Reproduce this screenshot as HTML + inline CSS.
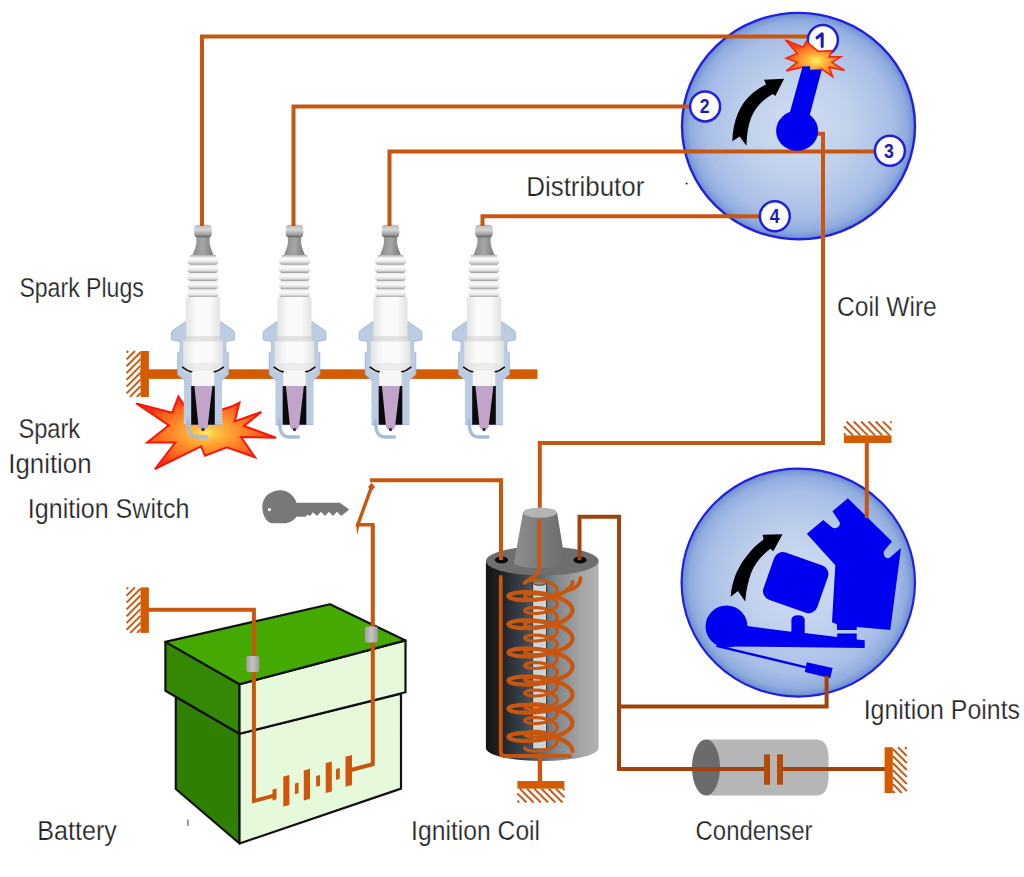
<!DOCTYPE html>
<html><head><meta charset="utf-8"><style>
html,body{margin:0;padding:0;background:#fff;width:1024px;height:877px;overflow:hidden}
svg{position:absolute;left:0;top:0;display:block}
text{font-family:"Liberation Sans",sans-serif;fill:#222}
</style></head><body>
<svg width="1024" height="877" viewBox="0 0 1024 877">
<defs>
<radialGradient id="dg" cx="50%" cy="50%" r="50%">
<stop offset="0" stop-color="#d2def2"/>
<stop offset="0.45" stop-color="#c0d1ec"/>
<stop offset="0.8" stop-color="#a8bee6"/>
<stop offset="0.93" stop-color="#90acdf"/>
<stop offset="1" stop-color="#6a8cd0"/>
</radialGradient>
<radialGradient id="sg" cx="50%" cy="50%" r="50%">
<stop offset="0" stop-color="#fff066"/>
<stop offset="0.15" stop-color="#ffc442"/>
<stop offset="0.45" stop-color="#ff902c"/>
<stop offset="0.8" stop-color="#ff5c1c"/>
<stop offset="1" stop-color="#ff2e10"/>
</radialGradient>
<linearGradient id="rib" x1="0" y1="0" x2="0" y2="1">
<stop offset="0" stop-color="#e8e8e8"/>
<stop offset="0.35" stop-color="#fbfbfb"/>
<stop offset="0.7" stop-color="#e0e0e0"/>
<stop offset="1" stop-color="#9a9a9a"/>
</linearGradient>
<linearGradient id="bodyg" x1="0" y1="0" x2="1" y2="0">
<stop offset="0" stop-color="#e4e4e4"/>
<stop offset="0.3" stop-color="#fafafa"/>
<stop offset="0.7" stop-color="#fafafa"/>
<stop offset="1" stop-color="#e2e2e2"/>
</linearGradient>
<linearGradient id="bodyv" x1="0" y1="0" x2="0" y2="1">
<stop offset="0" stop-color="#ffffff" stop-opacity="0"/>
<stop offset="0.52" stop-color="#ffffff" stop-opacity="0"/>
<stop offset="0.58" stop-color="#b0b0b0" stop-opacity="0.7"/>
<stop offset="0.64" stop-color="#ffffff" stop-opacity="0"/>
<stop offset="0.92" stop-color="#ffffff" stop-opacity="0"/>
<stop offset="1" stop-color="#c8c8c8" stop-opacity="0.8"/>
</linearGradient>
<linearGradient id="neck" x1="0" y1="0" x2="1" y2="0">
<stop offset="0" stop-color="#8a8a8a"/>
<stop offset="0.5" stop-color="#a6a6a6"/>
<stop offset="1" stop-color="#7a7a7a"/>
</linearGradient>
<linearGradient id="capg" x1="0" y1="0" x2="0" y2="1">
<stop offset="0" stop-color="#b8b8b8"/>
<stop offset="0.4" stop-color="#d8d8d8"/>
<stop offset="0.8" stop-color="#9a9a9a"/>
<stop offset="1" stop-color="#5a5a5a"/>
</linearGradient>
<g id="plug">
<!-- cap & neck -->
<path d="M-7,236 C-6,242 -6.5,246 -10.5,255 H10.5 C6.5,246 6,242 7,236 Z" fill="url(#neck)"/>
<rect x="-8.8" y="224.8" width="17.6" height="12.5" rx="3.5" fill="url(#capg)"/>
<!-- ribs -->
<rect x="-13" y="255" width="26" height="45" fill="#bdbdbd"/>
<rect x="-15.7" y="256.5" width="31.4" height="8.2" rx="4" fill="url(#rib)"/>
<rect x="-15.7" y="264.7" width="31.4" height="8.2" rx="4" fill="url(#rib)"/>
<rect x="-15.7" y="272.9" width="31.4" height="8.2" rx="4" fill="url(#rib)"/>
<rect x="-15.7" y="281.1" width="31.4" height="8.2" rx="4" fill="url(#rib)"/>
<rect x="-15.7" y="289.3" width="31.4" height="8.2" rx="4" fill="url(#rib)"/>
<!-- shell -->
<path d="M-17.8,321.8 L-30,330.3 Q-31.4,331.3 -31.4,333 L-31.4,339.8 L-22.8,341.5 L-22.8,351.5 L-25.3,352.5 L-25.3,374.5 L-18.5,380.3 L-18.5,424.7 L18.5,424.7 L18.5,380.3 L25.3,374.5 L25.3,352.5 L22.8,351.5 L22.8,341.5 L31.4,339.8 L31.4,333 Q31.4,331.3 30,330.3 L17.8,321.8 Z" fill="#bccde3" stroke="#a2b4ce" stroke-width="0.9"/>
<path d="M-18.7,382 V424 M18.7,382 V424" stroke="#e4ebf3" stroke-width="1.3" stroke-dasharray="1.2 1.5"/>
<!-- body -->
<rect x="-17" y="297" width="34" height="46" fill="url(#bodyg)"/>
<path d="M-19.8,340.5 H19.8 V368 Q19.8,372 15,372 H-15 Q-19.8,372 -19.8,368 Z" fill="url(#bodyg)"/>
<rect x="-19.8" y="336" width="39.6" height="5.5" fill="#c8c8c8" opacity="0.45"/>
<rect x="-20" y="363" width="40" height="8" fill="#dcdcdc" opacity="0.45"/>
<!-- gasket black line -->
<path d="M-20.8,366.8 Q-16,371 -10.5,372.2 M20.8,366.8 Q16,371 10.5,372.2" fill="none" stroke="#111" stroke-width="1.7"/>
<!-- lower insulator -->
<rect x="-11.3" y="372" width="22.6" height="14.2" fill="#f6f6f6"/>
<rect x="-11.8" y="386" width="23.6" height="38.7" fill="#0a0a0a"/>
<path d="M-8.6,386 L9.4,386 L4.5,427.5 C3,430.5 -3,430.5 -4.4,427.5 Z" fill="#c2a3c9"/>
<circle cx="0" cy="429.5" r="1.7" fill="#333"/>
<!-- ground electrode -->
<path d="M-15,420 C-15,432 -12.5,437 -5,437 L4,437" fill="none" stroke="#a9bcd6" stroke-width="3.4" stroke-linecap="round"/>
</g>
<radialGradient id="sg2" cx="52%" cy="57%" r="55%">
<stop offset="0" stop-color="#fff266"/>
<stop offset="0.25" stop-color="#ffc03c"/>
<stop offset="0.6" stop-color="#ff8228"/>
<stop offset="1" stop-color="#ff3a14"/>
</radialGradient>
</defs>

<!-- WIRES -->

<!-- SPARK PLUGS & GROUND BAR -->
<rect x="140.5" y="351" width="8.4" height="46" fill="#d35c00"/>
<rect x="140.5" y="369.3" width="397" height="9.6" fill="#d35c00"/>
<path d="M126.6,352.6 L128.2,351 M126.6,359.4 L135.0,351 M126.6,366.2 L140.5,352.3 M126.6,373.0 L140.5,359.1 M126.6,379.8 L140.5,365.9 M126.6,386.6 L140.5,372.7 M126.6,393.4 L140.5,379.5 M129.9,396.9 L140.5,386.3 M136.7,396.9 L140.5,393.1" stroke="#c85c1a" stroke-width="2" fill="none"/>
<!-- SPARK STAR -->
<path d="M136.3,403.4 L172.2,412.8 L178.4,396.4 L186,408 L200,410 L215,412 L233,406 L239.4,402.7 L234.7,421.4 L261.3,412 L244,426 L276,437.8 L241,437 L255,457.3 L226.9,447.2 L205,455.8 L201,446.4 L155,469 L175.3,442.5 L147.2,442.5 L169,425.3 Z" fill="url(#sg)" stroke="#f5180a" stroke-width="2"/>

<use href="#plug" transform="translate(203,0)"/>
<use href="#plug" transform="translate(294.5,0)"/>
<use href="#plug" transform="translate(390.5,0)"/>
<use href="#plug" transform="translate(484,0)"/>

<!-- DISTRIBUTOR -->
<ellipse cx="798.5" cy="126.1" rx="116.5" ry="113.2" fill="url(#dg)" stroke="#2020e0" stroke-width="2.4"/>
<g fill="none" stroke="#c9560f" stroke-width="4">
<path d="M202,226 V36.5 H820"/>
<path d="M293.5,226 V106.5 H700"/>
<path d="M389.5,226 V151.5 H885"/>
<path d="M482.5,226 V216.3 H770"/>
<path d="M816,133.8 H823 V443 H539.8 V512"/>
</g>
<!-- number circles -->
<g fill="#fff" stroke="#2020d8" stroke-width="2.5">
<circle cx="822.9" cy="40" r="15"/>
<circle cx="705.1" cy="106.4" r="15"/>
<circle cx="889.9" cy="150.8" r="15"/>
<circle cx="774.8" cy="216.2" r="15"/>
</g>
<g font-weight="bold" font-size="20" text-anchor="middle">
<text x="704.6" y="113" textLength="9.8" lengthAdjust="spacingAndGlyphs" style="fill:#1c1cb4">2</text>
<text x="888.9" y="157.5" textLength="9.8" lengthAdjust="spacingAndGlyphs" style="fill:#1c1cb4">3</text>
<text x="774.6" y="223" textLength="9.8" lengthAdjust="spacingAndGlyphs" style="fill:#1c1cb4">4</text>
</g>
<path d="M817,37.8 L822.2,33.8 V46.6" fill="none" stroke="#1c1cb4" stroke-width="3" stroke-linejoin="round" stroke-linecap="round"/>
<!-- star at 1 -->
<path d="M785.5,40.1 L803.2,47.3 L806.3,41.5 L818.3,51.4 L832,50.7 L829.2,56.9 L840.8,56.9 L832,62.3 L844.6,70.5 L829.2,67.1 L832.6,76.7 L821.7,69.2 L810.8,70.5 L802.6,67.1 L786.2,70.9 L797.1,62.3 L786.2,58.2 L797.1,53.5 Z" fill="url(#sg2)" stroke="#f02a12" stroke-width="1.6" stroke-linejoin="miter"/>
<!-- rotor -->
<g fill="#0000f0">
<path d="M789.7,113 L809.7,115.3 L821.7,70 L810.1,69.9 L810,66.2 L802.6,66.6 Z"/>
<ellipse cx="797.1" cy="130.8" rx="21" ry="20"/>
</g>
<!-- arrow -->
<path d="M732.3,141.3 C733,120 740,103 754,92 C758,89 762,86.5 766,84.6 L764.1,79.8 L784.1,78.8 L775.3,95.9 L772.9,93.9 C762,100 755,108 751,118 C748,126 746.5,136 746.5,145.7 L739.6,136.4 Z" fill="#000"/>
<circle cx="686.6" cy="183.4" r="1" fill="#222"/>

<!-- IGNITION POINTS -->
<ellipse cx="798.3" cy="582.6" rx="116.7" ry="114" fill="url(#dg)" stroke="#2020e0" stroke-width="2.2"/>
<g fill="#0000f0">
<path d="M806.8,533.8 L823.3,520.1 L830.8,526.2 Q834,530 838.2,527 Q840.5,524.5 839.7,522.2 L832.5,511.2 L847.9,498.2 L891.9,541.5 L884.2,550.8 Q882.5,555.5 886,557.8 Q888.5,559 890.5,557 L901,547.9 L890.3,630 L856.7,627 L856.7,630 L837.2,630 L836.8,624.3 L832,622.3 L835.3,565.2 Z"/>
<rect x="767.2" y="557.6" width="57" height="50" rx="9" transform="rotate(19.5 795.7 582.6)"/>
<circle cx="726.5" cy="626.5" r="21"/>
<path d="M722,606 L747.6,626.1 L791.4,631.8 L791.4,620 Q791.4,615.3 798,615.3 Q804.7,615.3 804.7,620 L804.7,633.1 L837.2,636.9 L837.2,633.5 L856.7,633.5 L856.7,639.5 L864.7,640.3 L864.7,647.9 L722.9,646.4 Q712,645 706,630 Z"/>
<path d="M806.7,662.2 L832.6,668.1 L830.2,678.3 L804.8,672 Z"/>
</g>
<path d="M716.5,645.8 L806,667.3" stroke="#0000f0" stroke-width="2.4" fill="none"/>
<path d="M730.7,596.7 C731.5,583 737,568 746,557 C751,550 757,544 763.6,539.5 L762.7,534.7 L782.5,534.2 L773.3,551.2 L770.4,548.8 C762,555 755,563 751.5,572 C748.5,580 746,590 745.2,601.6 L737.9,590.9 Z" fill="#000"/>

<!-- IGNITION COIL -->
<linearGradient id="coilg" x1="0" y1="0" x2="1" y2="0">
<stop offset="0" stop-color="#141414"/>
<stop offset="0.12" stop-color="#1e2022"/>
<stop offset="0.35" stop-color="#3c4650"/>
<stop offset="0.62" stop-color="#80868c"/>
<stop offset="0.85" stop-color="#a6a6a6"/>
<stop offset="1" stop-color="#b2b2b2"/>
</linearGradient>
<linearGradient id="towerg" x1="0" y1="0" x2="1" y2="0">
<stop offset="0" stop-color="#8e8e8e"/>
<stop offset="0.5" stop-color="#7c7c7c"/>
<stop offset="1" stop-color="#6c6c6c"/>
</linearGradient>
<path d="M485.9,561 V748 A56.35,13 0 0 0 598.6,748 V561 Z" fill="url(#coilg)"/>
<ellipse cx="542.25" cy="561" rx="56.35" ry="14.5" fill="#6e6e6e"/>
<path d="M523,512.6 L514.1,562.3 A25.5,6 0 0 0 565.2,562.3 L557.1,512.6 Z" fill="url(#towerg)"/>
<ellipse cx="540" cy="512.6" rx="17" ry="5.2" fill="#b4b4b4"/>
<ellipse cx="501.5" cy="560" rx="6.7" ry="3.5" fill="#0a0a0a"/>
<ellipse cx="580" cy="560" rx="6.7" ry="3.5" fill="#0a0a0a"/>
<rect x="532.6" y="582" width="14" height="167" fill="#cfd3d6" stroke="#333" stroke-width="1"/>
<ellipse cx="539.6" cy="582.5" rx="7" ry="2.8" fill="#888" stroke="#333" stroke-width="1"/>
<g fill="none" stroke="#c9560f" stroke-linecap="round">
<path d="M539.3,521 V568 C539.3,576 530,578 524.7,583" stroke-width="3.6"/>
<path d="M524.7,583.0 L525.2,582.1 L526.7,581.2 L529.1,580.5 L532.3,580.1 L536.0,580.0 L540.0,580.3 L544.1,581.0 L547.9,582.0 L551.4,583.3 L554.2,585.0 L556.2,586.8 L557.2,588.8 L557.2,590.9 L556.2,592.9 L554.2,594.8 L551.4,596.4 L547.9,597.8 L544.1,598.8 L540.0,599.4 L536.0,599.7 L532.3,599.6 L529.1,599.2 L526.7,598.5 L525.2,597.7 L524.7,596.8 L525.2,595.8 L526.7,595.0 L529.1,594.3 L532.3,593.9 L536.0,593.8 L540.0,594.1 L544.1,594.7 L547.9,595.7 L551.4,597.1 L554.2,598.7 L556.2,600.6 L557.2,602.6 L557.2,604.7 L556.2,606.7 L554.2,608.5 L551.4,610.2 L547.9,611.5 L544.1,612.5 L540.0,613.2 L536.0,613.5 L532.3,613.4 L529.1,613.0 L526.7,612.3 L525.2,611.4 L524.7,610.5 L525.2,609.6 L526.7,608.7 L529.1,608.0 L532.3,607.6 L536.0,607.5 L540.0,607.8 L544.1,608.5 L547.9,609.5 L551.4,610.8 L554.2,612.5 L556.2,614.3 L557.2,616.3 L557.2,618.4 L556.2,620.4 L554.2,622.3 L551.4,623.9 L547.9,625.3 L544.1,626.3 L540.0,626.9 L536.0,627.2 L532.3,627.1 L529.1,626.7 L526.7,626.0 L525.2,625.2 L524.7,624.2 L525.2,623.3 L526.7,622.5 L529.1,621.8 L532.3,621.4 L536.0,621.3 L540.0,621.6 L544.1,622.2 L547.9,623.2 L551.4,624.6 L554.2,626.2 L556.2,628.1 L557.2,630.1 L557.2,632.2 L556.2,634.2 L554.2,636.0 L551.4,637.7 L547.9,639.0 L544.1,640.0 L540.0,640.7 L536.0,641.0 L532.3,640.9 L529.1,640.5 L526.7,639.8 L525.2,638.9 L524.7,638.0 L525.2,637.1 L526.7,636.2 L529.1,635.5 L532.3,635.1 L536.0,635.0 L540.0,635.3 L544.1,636.0 L547.9,637.0 L551.4,638.3 L554.2,640.0 L556.2,641.8 L557.2,643.8 L557.2,645.9 L556.2,647.9 L554.2,649.8 L551.4,651.4 L547.9,652.8 L544.1,653.8 L540.0,654.4 L536.0,654.7 L532.3,654.6 L529.1,654.2 L526.7,653.5 L525.2,652.7 L524.7,651.8 L525.2,650.8 L526.7,650.0 L529.1,649.3 L532.3,648.9 L536.0,648.8 L540.0,649.1 L544.1,649.7 L547.9,650.7 L551.4,652.1 L554.2,653.7 L556.2,655.6 L557.2,657.6 L557.2,659.7 L556.2,661.7 L554.2,663.5 L551.4,665.2 L547.9,666.5 L544.1,667.5 L540.0,668.2 L536.0,668.5 L532.3,668.4 L529.1,668.0 L526.7,667.3 L525.2,666.4 L524.7,665.5 L525.2,664.6 L526.7,663.7 L529.1,663.0 L532.3,662.6 L536.0,662.5 L540.0,662.8 L544.1,663.5 L547.9,664.5 L551.4,665.8 L554.2,667.5 L556.2,669.3 L557.2,671.3 L557.2,673.4 L556.2,675.4 L554.2,677.3 L551.4,678.9 L547.9,680.3 L544.1,681.3 L540.0,681.9 L536.0,682.2 L532.3,682.1 L529.1,681.7 L526.7,681.0 L525.2,680.2 L524.7,679.2 L525.2,678.3 L526.7,677.5 L529.1,676.8 L532.3,676.4 L536.0,676.3 L540.0,676.6 L544.1,677.2 L547.9,678.2 L551.4,679.6 L554.2,681.2 L556.2,683.1 L557.2,685.1 L557.2,687.2 L556.2,689.2 L554.2,691.0 L551.4,692.7 L547.9,694.0 L544.1,695.0 L540.0,695.7 L536.0,696.0 L532.3,695.9 L529.1,695.5 L526.7,694.8 L525.2,693.9 L524.7,693.0 L525.2,692.1 L526.7,691.2 L529.1,690.5 L532.3,690.1 L536.0,690.0 L540.0,690.3 L544.1,691.0 L547.9,692.0 L551.4,693.3 L554.2,695.0 L556.2,696.8 L557.2,698.8 L557.2,700.9 L556.2,702.9 L554.2,704.8 L551.4,706.4 L547.9,707.8 L544.1,708.8 L540.0,709.4 L536.0,709.7 L532.3,709.6 L529.1,709.2 L526.7,708.5 L525.2,707.7 L524.7,706.8 L525.2,705.8 L526.7,705.0 L529.1,704.3 L532.3,703.9 L536.0,703.8 L540.0,704.1 L544.1,704.7 L547.9,705.7 L551.4,707.1 L554.2,708.7 L556.2,710.6 L557.2,712.6 L557.2,714.7 L556.2,716.7 L554.2,718.5 L551.4,720.2 L547.9,721.5 L544.1,722.5 L540.0,723.2 L536.0,723.5 L532.3,723.4 L529.1,723.0 L526.7,722.3 L525.2,721.4 L524.7,720.5 L525.2,719.6 L526.7,718.7 L529.1,718.0 L532.3,717.6 L536.0,717.5 L540.0,717.8 L544.1,718.5 L547.9,719.5 L551.4,720.8 L554.2,722.5 L556.2,724.3 L557.2,726.3 L557.2,728.4 L556.2,730.4 L554.2,732.3 L551.4,733.9 L547.9,735.3 L544.1,736.3 L540.0,736.9 L536.0,737.2 L532.3,737.1 L529.1,736.7 L526.7,736.0 L525.2,735.2 L524.7,734.2 L525.2,733.3 L526.7,732.5 L529.1,731.8 L532.3,731.4 L536.0,731.3 L540.0,731.6 L544.1,732.2 L547.9,733.2 L551.4,734.6 L554.2,736.2 L556.2,738.1 L557.2,740.1 L557.2,742.2 L556.2,744.2 L554.2,746.0 L551.4,747.7 L547.9,749.0 L544.1,750.0 L540.0,750.7 L536.0,751.0 L532.3,750.9 L529.1,750.5 L526.7,749.8 L525.2,748.9 L524.7,748.0" stroke-width="3.2"/>
<path d="M572.5,582.0 L572.1,584.3 L570.9,586.5 L569.0,588.7 L566.4,590.7 L563.1,592.6 L559.3,594.3 L555.0,595.8 L550.4,597.1 L545.5,598.2 L540.5,599.0 L535.5,599.6 L530.6,600.0 L526.0,600.1 L521.7,599.9 L517.9,599.6 L514.6,599.1 L512.0,598.5 L510.1,597.8 L508.9,596.9 L508.5,596.1 L508.9,595.2 L510.1,594.4 L512.0,593.7 L514.6,593.0 L517.9,592.5 L521.7,592.2 L526.0,592.1 L530.6,592.2 L535.5,592.5 L540.5,593.1 L545.5,594.0 L550.4,595.0 L555.0,596.3 L559.3,597.9 L563.1,599.6 L566.4,601.5 L569.0,603.5 L570.9,605.7 L572.1,607.9 L572.5,610.2 L572.1,612.4 L570.9,614.7 L569.0,616.8 L566.4,618.9 L563.1,620.8 L559.3,622.5 L555.0,624.0 L550.4,625.3 L545.5,626.4 L540.5,627.2 L535.5,627.8 L530.6,628.1 L526.0,628.2 L521.7,628.1 L517.9,627.8 L514.6,627.3 L512.0,626.7 L510.1,625.9 L508.9,625.1 L508.5,624.2 L508.9,623.4 L510.1,622.6 L512.0,621.8 L514.6,621.2 L517.9,620.7 L521.7,620.4 L526.0,620.3 L530.6,620.4 L535.5,620.7 L540.5,621.3 L545.5,622.1 L550.4,623.2 L555.0,624.5 L559.3,626.0 L563.1,627.7 L566.4,629.6 L569.0,631.7 L570.9,633.8 L572.1,636.1 L572.5,638.3 L572.1,640.6 L570.9,642.8 L569.0,645.0 L566.4,647.0 L563.1,648.9 L559.3,650.6 L555.0,652.2 L550.4,653.5 L545.5,654.5 L540.5,655.4 L535.5,656.0 L530.6,656.3 L526.0,656.4 L521.7,656.3 L517.9,656.0 L514.6,655.5 L512.0,654.8 L510.1,654.1 L508.9,653.3 L508.5,652.4 L508.9,651.6 L510.1,650.7 L512.0,650.0 L514.6,649.4 L517.9,648.9 L521.7,648.6 L526.0,648.4 L530.6,648.5 L535.5,648.9 L540.5,649.5 L545.5,650.3 L550.4,651.4 L555.0,652.7 L559.3,654.2 L563.1,655.9 L566.4,657.8 L569.0,659.8 L570.9,662.0 L572.1,664.2 L572.5,666.5 L572.1,668.8 L570.9,671.0 L569.0,673.2 L566.4,675.2 L563.1,677.1 L559.3,678.8 L555.0,680.3 L550.4,681.6 L545.5,682.7 L540.5,683.5 L535.5,684.1 L530.6,684.5 L526.0,684.6 L521.7,684.4 L517.9,684.1 L514.6,683.6 L512.0,683.0 L510.1,682.3 L508.9,681.4 L508.5,680.6 L508.9,679.7 L510.1,678.9 L512.0,678.2 L514.6,677.5 L517.9,677.0 L521.7,676.7 L526.0,676.6 L530.6,676.7 L535.5,677.0 L540.5,677.6 L545.5,678.5 L550.4,679.5 L555.0,680.8 L559.3,682.4 L563.1,684.1 L566.4,686.0 L569.0,688.0 L570.9,690.2 L572.1,692.4 L572.5,694.7 L572.1,696.9 L570.9,699.2 L569.0,701.3 L566.4,703.4 L563.1,705.3 L559.3,707.0 L555.0,708.5 L550.4,709.8 L545.5,710.9 L540.5,711.7 L535.5,712.3 L530.6,712.6 L526.0,712.7 L521.7,712.6 L517.9,712.3 L514.6,711.8 L512.0,711.2 L510.1,710.4 L508.9,709.6 L508.5,708.8 L508.9,707.9 L510.1,707.1 L512.0,706.3 L514.6,705.7 L517.9,705.2 L521.7,704.9 L526.0,704.8 L530.6,704.9 L535.5,705.2 L540.5,705.8 L545.5,706.6 L550.4,707.7 L555.0,709.0 L559.3,710.5 L563.1,712.2 L566.4,714.1 L569.0,716.2 L570.9,718.3 L572.1,720.6 L572.5,722.8 L572.1,725.1 L570.9,727.3 L569.0,729.5 L566.4,731.5 L563.1,733.4 L559.3,735.1 L555.0,736.7 L550.4,738.0 L545.5,739.0 L540.5,739.9 L535.5,740.5 L530.6,740.8 L526.0,740.9 L521.7,740.8 L517.9,740.5 L514.6,740.0 L512.0,739.3 L510.1,738.6 L508.9,737.8 L508.5,736.9 L508.9,736.1 L510.1,735.2 L512.0,734.5 L514.6,733.9 L517.9,733.4 L521.7,733.1 L526.0,732.9 L530.6,733.0 L535.5,733.4 L540.5,734.0 L545.5,734.8 L550.4,735.9 L555.0,737.2 L559.3,738.7 L563.1,740.4 L566.4,742.3 L569.0,744.3 L570.9,746.5 L572.1,748.7 L572.5,751.0" stroke-width="4.2"/>
<path d="M580.5,578 C580.5,585 576,588 569.5,590" stroke-width="3.8"/>
<path d="M500.75,577 V752 Q500.75,756 505,756 H570" stroke-width="3.8"/>
<path d="M539.9,755 V782" stroke-width="4.4"/>
</g>
<rect x="517.4" y="781" width="47" height="7.7" fill="#d35c00"/>
<path d="M563.1,788.7 L564.5,790.1 M555.9,788.7 L564.5,797.3 M548.7,788.7 L562.5,802.5 M541.5,788.7 L555.3,802.5 M534.3,788.7 L548.1,802.5 M527.1,788.7 L540.9,802.5 M519.9,788.7 L533.7,802.5 M517.4,793.4 L526.5,802.5 M517.4,800.6 L519.3,802.5" stroke="#c85c1a" stroke-width="2" fill="none"/>

<!-- POINTS GROUND + WIRES -->
<g fill="none" stroke="#c9560f" stroke-width="4">
<path d="M866.8,443 V518"/>
<path d="M579.5,560 V516.8 H619 V769 H888" stroke="#a0420f"/>
<path d="M619,706.4 H826.6 V676" stroke="#a0420f"/>
<path d="M370,480.3 H501 V560"/>
</g>
<rect x="843.9" y="435.4" width="47.6" height="7.6" fill="#d35c00"/>
<path d="M890.3,421.5 L891.5,422.7 M883.0,421.5 L891.5,430.0 M875.7,421.5 L889.6,435.4 M868.4,421.5 L882.3,435.4 M861.1,421.5 L875.0,435.4 M853.8,421.5 L867.7,435.4 M846.5,421.5 L860.4,435.4 M843.9,426.2 L853.1,435.4 M843.9,433.5 L845.8,435.4" stroke="#c85c1a" stroke-width="2" fill="none"/>

<!-- CONDENSER -->
<path d="M706,739.4 H816 Q828.5,739.4 828.5,758 V777 Q828.5,795.6 816,795.6 H706 Z" fill="#b6b6b6"/>
<ellipse cx="706" cy="767.5" rx="14" ry="28.1" fill="#6b6b6b"/>
<path d="M685,769 H767 M780,769 H888" stroke="#a0420f" stroke-width="4" fill="none"/>
<rect x="764" y="754.4" width="6" height="30.3" fill="#b54a0e"/>
<rect x="777" y="754.4" width="6" height="30.3" fill="#b54a0e"/>
<rect x="884.6" y="747.2" width="8.2" height="45.8" fill="#d35c00"/>
<path d="M905.0,747.2 L906.8,749.0 M898.0,747.2 L906.8,756.0 M892.8,749.0 L906.8,763.0 M892.8,756.0 L906.8,770.0 M892.8,763.0 L906.8,777.0 M892.8,770.0 L906.8,784.0 M892.8,777.0 L906.8,791.0 M892.8,784.0 L901.8,793 M892.8,791.0 L894.8,793" stroke="#c85c1a" stroke-width="2" fill="none"/>

<!-- BATTERY -->
<g stroke="#111" stroke-width="2.2" stroke-linejoin="round">
<path d="M175.8,696.7 L239.5,733.8 L239.5,843.5 L175.8,789 Z" fill="#2f8002"/>
<path d="M239.5,733.8 L401,693.8 L401,788.6 L239.5,843.5 Z" fill="#e6fadb"/>
<path d="M165.4,641.9 L239.5,684.3 L239.5,733.8 L165.4,690.8 Z" fill="#348804"/>
<path d="M239.5,684.3 L405.5,640.4 L405.5,692.3 L239.5,733.8 Z" fill="#e6fadb"/>
<path d="M165.4,641.9 L330,604.2 L405.5,640.4 L239.5,684.3 Z" fill="#44aa02"/>
</g>
<g fill="none" stroke="#c9560f" stroke-width="4">
<path d="M145,609.8 H253.9 V801 L274,795.6"/>
<path d="M372.8,524.7 V764.1 L351,770"/>
</g>
<path d="M272.5,789.6 L276.5,788.5 L276.5,799.3 L272.5,800.4 Z M283.3,776.6 L289.4,775.0 L289.4,805.0 L283.3,806.6 Z M294.9,783.5 L298.6,782.5 L298.6,793.3 L294.9,794.3 Z M303.8,770.5 L310,768.8 L310,798.7 L303.8,800.4 Z M316.1,776 L320,774.9 L320,785.7 L316.1,786.8 Z M325.7,763 L331.8,761.4 L331.8,791.4 L325.7,793 Z M335.9,769.1 L339.8,768.0 L339.8,778.8 L335.9,779.9 Z M345.5,756.8 L352,755.0 L352,785.0 L345.5,786.8 Z" fill="#d0560e"/>
<linearGradient id="termg" x1="0" y1="0" x2="1" y2="0">
<stop offset="0" stop-color="#a0a0a0"/><stop offset="0.5" stop-color="#c4c4c4"/><stop offset="1" stop-color="#9a9a9a"/>
</linearGradient>
<rect x="246.3" y="656" width="13" height="16" rx="2" fill="url(#termg)"/>
<rect x="364.9" y="626.5" width="13" height="16" rx="2" fill="url(#termg)"/>
<rect x="140.5" y="587.4" width="8.4" height="45.5" fill="#d35c00"/>
<path d="M126.6,589.0 L128.2,587.4 M126.6,595.8 L135.0,587.4 M126.6,602.6 L140.5,588.7 M126.6,609.4 L140.5,595.5 M126.6,616.2 L140.5,602.3 M126.6,623.0 L140.5,609.1 M126.6,629.8 L140.5,615.9 M130.3,632.9 L140.5,622.7 M137.1,632.9 L140.5,629.5" stroke="#c85c1a" stroke-width="2" fill="none"/>
<rect x="187" y="819.5" width="1.7" height="6.5" fill="#5f6f80" opacity="0.75"/>
<!-- KEY -->
<path d="M296.5,502.8 H339.8 L349.3,509.5 L341.1,516 L337,511.8 L333,516 L329,511.8 L325,516 L321,511.8 L317,516 L313,512.2 L310,516 L307,514.5 L306,516.8 H296.5 C293.5,521 289,523.3 284,523.3 H273 C266.5,523.3 262.3,515 262.3,507 C262.3,497 270.5,490.3 280.3,490.3 C288,490.3 294,495.5 296.5,502.8 Z" fill="#787878"/>
<circle cx="269.4" cy="509.6" r="1.6" fill="#fff"/>
<!-- SWITCH -->
<g fill="none" stroke="#c9560f" stroke-width="3.4">
<path d="M371.5,487 L357.8,524.7 H374.5"/>
</g>
<path d="M356,523 L357.2,535 L359.6,524.5 Z" fill="#c9560f"/>
<path d="M371.5,482.8 L375,487 L371.5,491.2 L368,487 Z" fill="#c9560f"/>
<!-- LABELS -->
<g font-size="27" style="stroke:#fff;stroke-width:0.25px">
<text x="19.4" y="296.7" textLength="124.4" lengthAdjust="spacingAndGlyphs">Spark Plugs</text>
<text x="526.2" y="195.6" textLength="118.2" lengthAdjust="spacingAndGlyphs">Distributor</text>
<text x="837.0" y="316.3" textLength="99.8" lengthAdjust="spacingAndGlyphs">Coil Wire</text>
<text x="18.4" y="437.8" textLength="61.8" lengthAdjust="spacingAndGlyphs">Spark</text>
<text x="8.3" y="473.1" textLength="83.3" lengthAdjust="spacingAndGlyphs">Ignition</text>
<text x="27.8" y="517.6" textLength="161.6" lengthAdjust="spacingAndGlyphs">Ignition Switch</text>
<text x="37.3" y="839.8" textLength="79.6" lengthAdjust="spacingAndGlyphs">Battery</text>
<text x="411.1" y="839.7" textLength="129.0" lengthAdjust="spacingAndGlyphs">Ignition Coil</text>
<text x="695.6" y="839.9" textLength="117.0" lengthAdjust="spacingAndGlyphs">Condenser</text>
<text x="863.7" y="718.5" textLength="156.3" lengthAdjust="spacingAndGlyphs">Ignition Points</text>
</g>
</svg>
</body></html>
